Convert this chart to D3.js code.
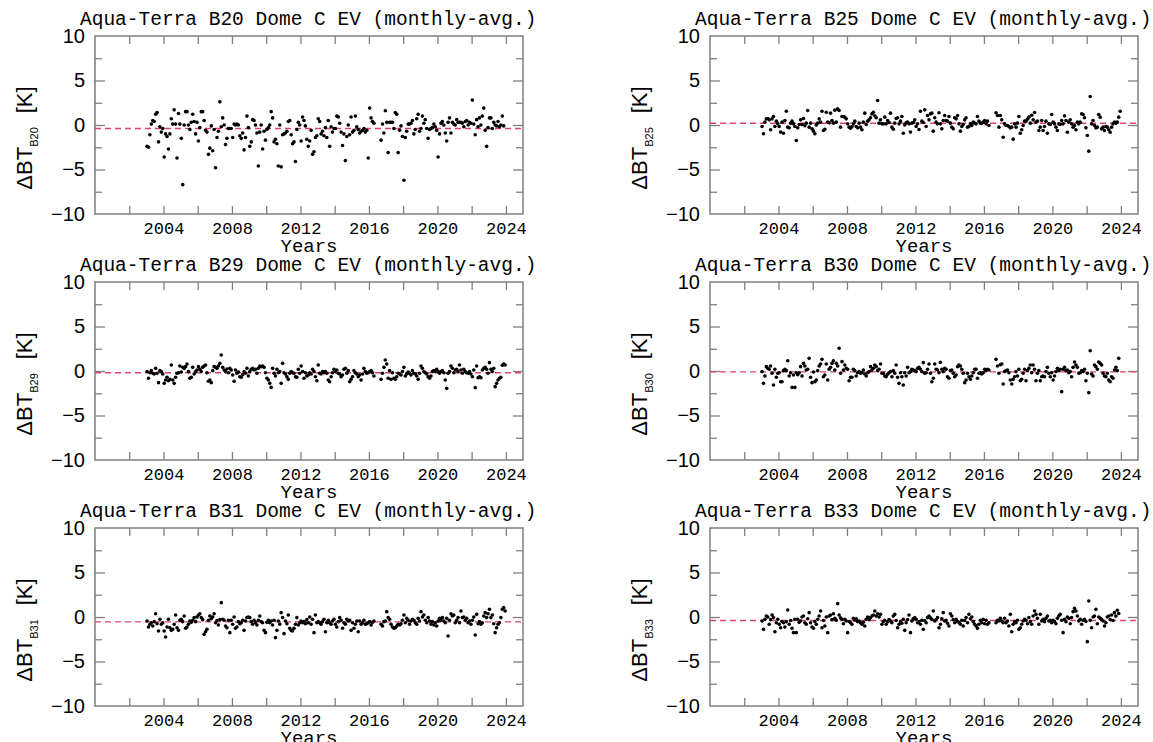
<!DOCTYPE html>
<html><head><meta charset="utf-8">
<script src="https://cdn.jsdelivr.net/npm/d3@7"></script>
<style>
html,body{margin:0;padding:0;background:#fff;}
svg{display:block;}
</style></head>
<body>
<svg id="chart" width="1153" height="742"></svg>
<script>
// ---------------- DATA ----------------
const startYear = 2003;               // first monthly average (Jan 2003)
const bands = ["B20", "B25", "B29", "B30", "B31", "B33"];
const meanLines = [-0.4, 0.2, -0.2, -0.1, -0.55, -0.4];
const yTickValues = [-10, -5, 0, 5, 10];
const xLabelYears = [2004, 2008, 2012, 2016, 2020, 2024];
const xTickYears = [2002, 2004, 2006, 2008, 2010, 2012, 2014, 2016, 2018, 2020, 2022, 2024];

const b20 = [
 -2.4,-2.5,-1.1,0.1,0.5,0.4,1.2,1.4,-1.9,-0.2,-0.8,-0.4,
 -3.6,-1.0,-1.3,-2.7,-1.0,0.7,0.1,1.7,0.1,-3.7,1.3,0.1,
 -1.5,-6.7,0.0,1.5,1.5,0.0,-0.5,0.3,1.2,0.4,-1.0,0.3,
 -1.8,-0.3,1.5,1.5,0.5,-0.6,-0.8,-3.3,-2.6,-0.1,-2.9,-0.5,
 -4.8,-1.4,-0.7,2.6,-0.2,0.8,0.0,-2.2,-1.5,-0.4,-0.4,-0.4,
 -1.4,0.1,0.0,0.1,0.0,-1.2,-1.5,-0.9,-2.8,-1.4,1.0,-0.3,
 -2.4,-1.9,0.6,0.5,0.0,-0.9,-4.6,-0.8,0.0,-2.7,-0.7,-1.7,
 -0.5,-0.3,0.0,1.5,0.8,-1.9,-1.6,-2.1,-4.6,0.0,-4.7,-1.1,
 -1.0,-0.9,-0.7,0.4,0.5,-1.1,-2.1,-1.9,-4.1,-0.5,0.3,0.0,
 -1.8,0.9,0.5,-0.1,-1.6,-2.4,-1.8,-0.6,-3.3,-3.0,-1.4,-1.2,
 0.7,0.4,-1.0,-0.7,-1.2,-0.3,-1.4,0.5,-2.4,-0.2,-0.8,-0.4,
 -0.4,1.0,0.9,0.2,-0.8,-2.3,-1.0,-4.0,-1.3,0.0,-1.1,0.9,
 -0.8,-0.6,1.0,-0.2,-0.5,-0.9,-0.7,-0.6,-0.4,-0.8,-0.6,-3.7,
 1.9,0.8,0.4,0.2,null,null,null,null,-1.7,0.1,-0.9,1.6,
 0.3,-3.1,0.3,0.3,0.3,-0.4,1.4,1.2,-3.1,-0.6,-0.1,-1.3,
 -6.2,-1.4,-0.7,0.1,0.1,0.2,0.5,-1.0,-0.5,0.7,1.2,-0.7,
 -0.4,1.0,0.2,0.6,-0.4,-1.5,-0.5,-0.4,-0.3,0.1,-0.2,-0.6,
 -3.6,-1.0,0.2,0.4,0.0,-0.9,-1.8,0.3,0.8,-0.9,0.3,0.1,
 0.0,0.6,0.3,0.3,0.3,0.2,-0.2,0.4,0.5,0.0,0.3,0.2,
 2.8,0.1,-1.1,0.6,-0.2,0.8,0.0,1.0,1.9,-0.6,-2.4,-0.3,
 0.8,0.8,-0.4,0.3,0.0,-0.1,0.4,-0.2,0.0,1.0,-0.1,null
];
const b25 = [
 -0.17,-0.99,0.32,0.69,0.73,0.58,-0.54,0.69,0.96,-0.17,0.43,0.13,
 -0.17,-0.80,0.32,-0.92,0.51,1.55,-0.24,-0.32,0.21,0.43,0.13,-0.17,
 -1.74,-0.32,0.06,0.58,0.06,0.73,-0.09,0.21,1.63,-0.24,0.21,-0.43,
 -0.69,-0.99,0.01,0.21,0.69,0.32,1.55,-0.62,-0.47,1.44,0.32,0.24,
 1.33,0.51,0.21,1.67,0.32,1.81,1.63,-0.24,0.96,0.96,0.88,0.69,
 0.13,-0.24,-0.36,-0.17,0.13,0.43,-0.17,-0.32,0.21,-0.24,-0.54,0.32,
 1.33,0.06,0.43,0.58,0.81,1.25,1.44,1.03,0.81,2.75,0.21,0.58,
 0.13,0.13,0.88,0.13,0.51,0.28,1.33,-0.24,-0.47,0.21,0.73,0.81,
 0.13,0.43,0.96,-0.92,0.01,0.24,0.32,0.13,-0.80,0.21,0.28,0.58,
 -0.17,0.13,-0.51,1.55,0.43,0.28,1.70,-0.17,1.07,0.58,1.25,1.33,
 -0.69,0.81,0.32,0.13,1.37,0.13,-0.43,0.51,1.07,0.51,0.43,0.96,
 0.21,-0.24,-0.43,0.81,0.69,1.07,0.13,-0.69,-0.17,0.06,0.58,0.81,
 -0.24,-0.17,0.13,-0.06,0.32,0.21,0.13,0.96,0.43,0.21,0.21,0.32,
 0.51,0.13,0.43,-0.06,null,null,null,null,1.37,1.07,-0.24,1.07,
 0.58,-1.37,0.13,-0.06,-0.06,-0.17,-0.32,-0.24,-1.59,0.13,-0.24,0.21,
 0.96,-0.92,-0.54,-0.06,0.43,0.43,0.66,0.88,0.21,1.10,0.58,1.40,
 0.32,0.43,-0.62,-0.24,0.51,-0.62,-0.17,0.43,-0.92,0.13,0.06,1.18,
 0.32,0.13,-0.24,-0.62,0.13,0.06,0.51,0.13,1.03,0.51,-0.81,0.32,
 0.58,0.13,-0.24,-0.06,-0.54,0.32,0.13,0.32,1.25,1.18,0.81,-0.32,
 -1.18,-2.94,3.20,0.13,0.51,-0.06,-0.32,-0.24,1.18,0.88,-0.43,-0.24,
 -0.62,-0.17,-0.24,-0.54,-0.81,-0.24,0.13,0.32,0.21,0.32,0.88,1.55
];
const b29 = [
 -0.07,-0.82,-0.19,0.04,-0.26,-0.34,0.30,-0.26,-1.31,0.04,-0.07,-0.34,
 -1.39,-1.01,-0.71,-1.09,-0.94,0.67,-1.01,-1.39,-0.71,-0.26,-0.19,0.56,
 -0.11,0.41,0.30,0.49,0.79,-0.07,-0.82,-0.71,0.41,-0.34,-0.07,0.11,
 0.49,0.19,-0.07,0.41,0.56,0.67,-0.19,-1.16,-1.01,-1.31,0.04,0.49,
 0.41,0.30,0.56,0.86,1.80,0.41,0.11,-0.07,0.22,-0.19,0.30,0.11,
 -0.45,-1.16,0.11,-0.26,-0.11,-0.64,-0.71,-0.41,-0.07,-0.26,0.30,-0.56,
 -0.07,0.19,0.30,0.11,0.19,-0.26,0.30,0.56,0.49,0.56,0.41,-0.19,
 -0.82,-1.01,-1.39,-1.84,0.30,-0.26,-0.56,0.19,-0.19,-0.07,-1.39,0.86,
 -0.19,-0.34,-0.64,-0.94,-0.26,-0.07,-0.19,-0.26,-0.64,-0.71,0.19,-0.26,
 0.56,-0.07,-0.82,-0.19,-0.56,-0.45,-0.19,-0.34,0.19,-0.07,-0.64,-1.09,
 0.67,-0.26,-0.34,-0.07,-0.19,-0.07,-0.26,-1.01,-1.20,-0.64,-0.19,0.19,
 -0.07,0.11,-0.26,-0.34,-0.64,-0.45,0.19,0.30,-0.26,0.04,-1.20,-0.94,
 -0.64,0.04,-0.19,-0.34,-0.64,-0.45,-1.01,-0.34,0.30,-0.07,-0.26,-0.19,
 -0.07,0.04,-0.19,-0.56,null,null,null,null,-0.94,-0.26,0.41,1.24,
 0.79,-0.82,0.04,-0.94,-0.19,-0.82,-0.94,-0.64,-0.26,-0.34,-0.45,-0.07,
 0.41,-0.56,-0.34,-0.11,-0.26,-0.45,0.04,-0.26,-0.34,-0.56,-0.94,-0.26,
 0.56,0.30,-0.07,-0.19,-0.34,-0.64,-0.82,-0.56,-0.07,0.04,-0.07,0.19,
 -0.07,-0.26,-0.07,0.04,-0.19,-1.01,-1.95,-0.26,-0.07,0.56,0.30,-0.19,
 0.11,0.19,-0.07,0.67,0.11,-0.26,0.19,-0.07,-0.19,-0.26,-0.07,-0.34,
 -0.64,0.11,-1.87,0.56,-0.75,-0.64,-0.75,0.11,0.30,0.41,0.19,-0.26,
 0.94,0.19,-0.07,0.30,-1.76,-1.39,-1.01,-0.82,-0.71,0.64,0.79,0.67
];
const b30 = [
 -0.07,-1.39,-0.56,0.49,0.30,0.19,0.56,-0.26,-1.57,0.19,-0.71,-0.26,
 -0.19,-1.20,-1.20,0.04,0.19,0.04,1.16,-0.56,-0.19,-1.84,-0.45,-1.84,
 -0.19,-0.41,-0.19,0.49,-0.56,0.86,0.56,0.11,0.19,1.42,-0.71,-1.31,
 -0.11,-1.20,-1.01,0.04,0.56,0.79,1.31,-0.64,-0.45,0.79,-1.01,0.19,
 0.41,0.86,1.16,0.11,0.86,0.56,2.55,-0.26,1.05,0.11,0.67,0.30,
 0.19,-1.09,-0.71,-0.71,0.19,0.04,-0.56,-0.19,-0.07,-0.26,-0.19,0.11,
 -0.34,-0.56,-0.19,-0.07,0.49,0.11,0.30,0.67,0.49,0.04,0.19,0.79,
 -0.26,-0.26,-0.56,-0.64,-0.37,-0.19,-0.07,-0.64,0.04,-0.26,0.67,-0.71,
 -1.39,-0.19,-0.64,-1.57,-0.19,-0.56,0.41,-0.19,-0.07,0.19,0.11,0.04,
 -0.07,0.30,0.41,0.19,-0.07,0.94,-0.26,-0.19,0.19,0.79,-0.26,-1.20,
 -0.82,0.79,0.19,0.11,-0.19,0.97,0.19,-0.07,0.30,0.19,-0.64,-0.82,
 0.04,0.11,-0.26,-0.64,-0.45,0.49,0.67,0.56,0.19,-0.26,-1.31,-1.01,
 -0.26,-0.64,-0.94,-0.56,-0.19,0.19,0.19,-0.82,-0.26,-0.19,-0.34,-0.19,
 0.19,0.04,0.19,0.11,null,null,null,null,1.31,0.56,-0.26,0.71,
 0.79,-1.46,-0.07,0.04,0.11,-0.19,-1.01,-1.46,-0.94,-0.64,-0.07,-0.56,
 0.19,-1.09,-0.94,-0.26,0.19,-1.09,0.04,0.30,0.67,-0.19,0.67,0.19,
 -1.09,-0.26,0.04,-1.09,-0.64,-0.56,-0.64,-0.07,0.41,-0.26,-0.64,-0.19,
 -1.01,-0.56,-0.07,0.30,0.04,0.19,-2.32,0.19,0.41,0.04,0.11,-0.19,
 -0.07,-0.64,0.41,1.01,0.67,0.41,-0.26,-0.19,0.04,-0.07,0.19,-1.09,
 -0.26,-2.43,2.28,-0.34,-0.56,0.67,0.49,0.19,1.01,0.86,0.67,-0.26,
 -0.56,-0.64,-0.26,-1.01,-1.20,-0.64,-0.82,0.11,0.41,0.04,1.42,null
];
const b31 = [
 -0.45,-1.12,-0.82,-0.64,-1.01,-0.52,0.37,-0.75,-1.57,-0.26,-0.82,-0.64,
 -1.57,-2.25,-1.12,-0.26,-1.20,-1.50,-1.39,-0.82,0.22,-1.20,-1.50,-0.37,
 -0.26,-0.52,0.11,-1.27,-1.12,-0.82,-0.45,-0.60,-0.37,-0.07,-0.52,0.00,
 0.22,0.37,-0.07,-0.30,-1.95,-1.65,-1.39,-0.37,0.11,-0.20,0.00,0.37,
 -0.64,-0.40,-0.90,-0.30,1.61,-0.26,-0.37,-1.01,-1.20,-0.37,-1.76,-0.37,
 -0.82,0.00,-1.27,-1.12,-0.52,-0.75,-0.64,-0.37,-1.50,-0.45,-0.07,0.00,
 -0.07,-0.52,-0.82,-0.37,-0.64,-0.90,-0.37,0.11,-0.52,-0.64,-1.50,-1.76,
 -0.60,-0.37,-0.64,-0.45,-0.90,-0.37,-2.32,-1.50,-0.45,-0.82,0.49,-0.07,
 -1.87,-0.45,-0.75,0.22,-1.27,-1.50,-1.57,-1.27,-0.82,-0.07,-0.90,-0.64,
 -0.45,-0.64,-0.52,-0.75,-0.30,-0.64,0.00,-0.82,-0.26,-1.76,0.22,-0.64,
 -0.52,-0.64,-0.82,-0.52,-0.26,-1.65,-0.64,-0.37,-0.64,-0.82,-0.45,-0.26,
 -0.82,-1.12,-0.52,-0.07,-0.37,-1.27,-0.64,-0.82,-0.26,-0.45,-0.37,-1.50,
 -0.64,-1.27,-0.82,-0.45,-1.65,-0.45,-0.82,-0.64,-0.37,-0.82,-0.75,-0.64,
 -0.52,-0.90,-0.60,-0.45,null,null,null,null,-0.82,-1.01,-0.52,-0.45,
 0.60,-0.07,-0.26,-0.82,-1.12,-1.27,-1.20,-1.01,-0.82,-0.90,-0.75,-0.37,
 0.22,-0.64,-0.15,-0.37,-0.82,-0.45,-0.26,-0.37,-0.64,-0.82,-0.15,-0.45,
 0.60,0.00,0.22,-0.37,-0.64,-0.07,-0.45,-0.82,-0.52,-0.90,-0.64,-1.01,
 -0.45,-0.15,-0.37,-0.07,-0.45,-0.64,-0.15,-2.13,-0.37,0.37,0.11,0.22,
 -0.64,-0.37,-0.07,-0.64,0.67,-0.07,0.00,-0.37,-0.15,-0.64,-0.45,-0.82,
 -0.37,0.00,-2.02,0.30,-0.75,-0.52,-0.82,-0.64,0.11,0.49,-0.07,0.37,
 0.86,-0.07,0.22,-0.75,-1.76,-1.20,-0.82,-0.64,-0.07,0.86,1.05,0.67
];
const b33 = [
 -0.45,-1.39,-0.26,0.11,0.00,-0.82,-0.30,0.22,-0.07,-1.65,-0.64,-0.26,
 -0.82,-1.20,-0.50,-0.64,-1.12,-0.52,0.79,-0.82,-0.40,-1.27,-1.76,-0.26,
 -1.76,-0.26,-0.60,-0.45,0.00,0.11,-0.64,-0.82,-0.20,0.49,-0.64,-1.12,
 -1.27,-0.50,-0.82,-0.26,0.11,0.67,-1.20,-0.40,-1.01,0.00,-1.76,0.11,
 0.22,-0.30,0.37,-0.15,-0.37,1.50,0.22,-0.10,-0.26,-0.75,-0.26,-0.45,
 -1.76,-0.50,-0.64,-0.82,-0.15,-0.37,-0.20,-0.52,-0.45,-0.64,-0.82,-0.60,
 -1.01,-0.26,0.00,-0.30,-0.07,0.11,0.22,0.67,0.10,0.37,0.00,0.30,
 -0.82,-0.50,-0.37,-0.82,-0.52,-0.30,-0.45,-0.64,0.11,0.30,-0.40,-1.20,
 -0.82,-0.52,-0.70,-0.26,-1.50,-0.64,-0.30,0.22,-1.76,-0.45,-0.20,-0.07,
 -0.26,-0.64,-0.50,-0.82,-0.37,-1.39,-0.40,-0.64,-0.07,0.11,-0.10,-0.26,
 0.67,-0.45,-0.30,-0.07,-1.20,-0.82,-0.20,0.49,-0.45,-0.37,-0.70,-1.01,
 0.37,0.11,-0.30,-0.64,-0.26,-0.52,-0.60,-0.82,-0.37,-1.01,-0.40,-0.07,
 -0.64,0.30,-0.20,0.00,-0.52,-0.82,-1.00,-1.27,-0.82,-0.37,-0.64,-0.26,
 -0.75,-0.37,-0.82,-0.64,null,null,null,null,-0.64,-0.37,-0.45,-0.15,
 -0.45,-0.64,-0.15,-0.64,-0.45,-1.01,0.30,-1.65,-0.82,-0.52,-0.64,-0.37,
 -1.39,-1.20,-0.82,-0.45,-0.26,-0.37,-0.75,-0.07,-0.52,-0.82,0.11,0.67,
 0.30,-0.15,-0.82,0.30,-0.45,-0.26,-0.52,-0.15,0.11,-0.45,-0.37,-0.64,
 -0.37,-0.52,-0.75,-0.15,0.11,0.30,-0.37,-1.76,-0.26,-0.52,0.00,-0.15,
 -0.75,-0.07,0.60,0.97,0.67,0.11,-0.45,-0.26,-0.82,-0.37,-0.26,-0.50,
 -2.77,1.80,-0.37,-1.20,0.00,0.11,0.86,-0.75,0.00,-0.15,-0.26,-0.45,
 -1.01,-0.64,0.00,0.11,-0.30,0.22,-0.40,0.49,0.10,0.75,0.40,null
];
const series = [b20, b25, b29, b30, b31, b33];

// ---------------- LAYOUT ----------------
const colX = [95, 710];
const rowY = [36, 282, 528];
const W = 428, H = 178;
const frameColor = "#7f7f7f";
const meanColor = "#e0446a";
const mono = "'Liberation Mono','DejaVu Sans Mono',monospace";
const sans = "'Liberation Sans',Arial,sans-serif";

const svg = d3.select("#chart");

bands.forEach((band, k) => {
  const x0 = colX[k % 2], y0 = rowY[Math.floor(k / 2)];
  const g = svg.append("g").attr("transform", `translate(${x0},${y0})`);
  const x = d3.scaleLinear().domain([2000, 2025]).range([0, W]);
  const y = d3.scaleLinear().domain([-10, 10]).range([H, 0]);

  // ticks (inward) on all four sides
  const styleTicks = sel => {
    sel.select(".domain").remove();
    sel.selectAll("line").attr("stroke", frameColor).attr("stroke-width", 1.3);
    sel.selectAll("text").remove();
  };
  g.append("g").attr("transform", `translate(0,${H})`)
    .call(d3.axisBottom(x).tickValues(xTickYears).tickSize(-8)).call(styleTicks);
  g.append("g")
    .call(d3.axisTop(x).tickValues(xTickYears).tickSize(-8)).call(styleTicks);
  const yMinor = d3.range(-7.5, 10, 5);
  [[d3.axisLeft, 0, -1], [d3.axisRight, W, -1]].forEach(([ax, tx]) => {
    g.append("g").attr("transform", `translate(${tx},0)`)
      .call(ax(y).tickValues(yTickValues.filter(v => v > -10 && v < 10)).tickSize(-10)).call(styleTicks);
    g.append("g").attr("transform", `translate(${tx},0)`)
      .call(ax(y).tickValues(yMinor).tickSize(-7)).call(styleTicks);
  });

  // frame
  g.append("rect").attr("x", 0).attr("y", 0).attr("width", W).attr("height", H)
    .attr("fill", "none").attr("stroke", frameColor).attr("stroke-width", 1.5);

  // y tick labels
  const yLab = g.append("g")
    .call(d3.axisLeft(y).tickValues(yTickValues).tickSize(0).tickPadding(10));
  yLab.select(".domain").remove();
  yLab.selectAll("text").attr("font-family", sans).attr("font-size", 20).attr("fill", "#000")
    .text(d => d < 0 ? "\u2212" + Math.abs(d) : d);

  // x tick labels
  const xLab = g.append("g").attr("transform", `translate(0,${H})`)
    .call(d3.axisBottom(x).tickValues(xLabelYears).tickSize(0).tickPadding(8).tickFormat(d3.format("d")));
  xLab.select(".domain").remove();
  xLab.selectAll("text").attr("font-family", mono).attr("font-size", 17).attr("fill", "#000");

  // mean dashed line
  g.append("line").attr("x1", 0).attr("x2", W)
    .attr("y1", y(meanLines[k])).attr("y2", y(meanLines[k]))
    .attr("stroke", meanColor).attr("stroke-width", 1.4).attr("stroke-dasharray", "6,4");

  // points
  const pts = series[k].map((v, i) => ({ t: startYear + i / 12 + 1 / 24, v }))
    .filter(d => d.v !== null);
  g.append("g").selectAll("circle").data(pts).join("circle")
    .attr("cx", d => x(d.t)).attr("cy", d => y(d.v)).attr("r", 1.8).attr("fill", "#000");

  // title
  g.append("text").attr("x", -15).attr("y", -11)
    .attr("font-family", mono).attr("font-size", 19.5).attr("fill", "#000")
    .text(`Aqua-Terra ${band} Dome C EV (monthly-avg.)`);

  // x axis title
  g.append("text").attr("x", W / 2).attr("y", H + 38).attr("text-anchor", "middle")
    .attr("font-family", mono).attr("font-size", 19).attr("fill", "#000").text("Years");

  // y axis title
  const yt = g.append("text")
    .attr("transform", `translate(${-63},${H / 2 + 13}) rotate(-90)`)
    .attr("text-anchor", "middle").attr("font-family", sans).attr("font-size", 22).attr("fill", "#000");
  yt.append("tspan").text("\u0394BT");
  yt.append("tspan").attr("font-size", 11).attr("dy", 6).text(band);
  yt.append("tspan").attr("dy", -6).attr("dx", 14).text("[K]");
});
</script>
</body></html>
